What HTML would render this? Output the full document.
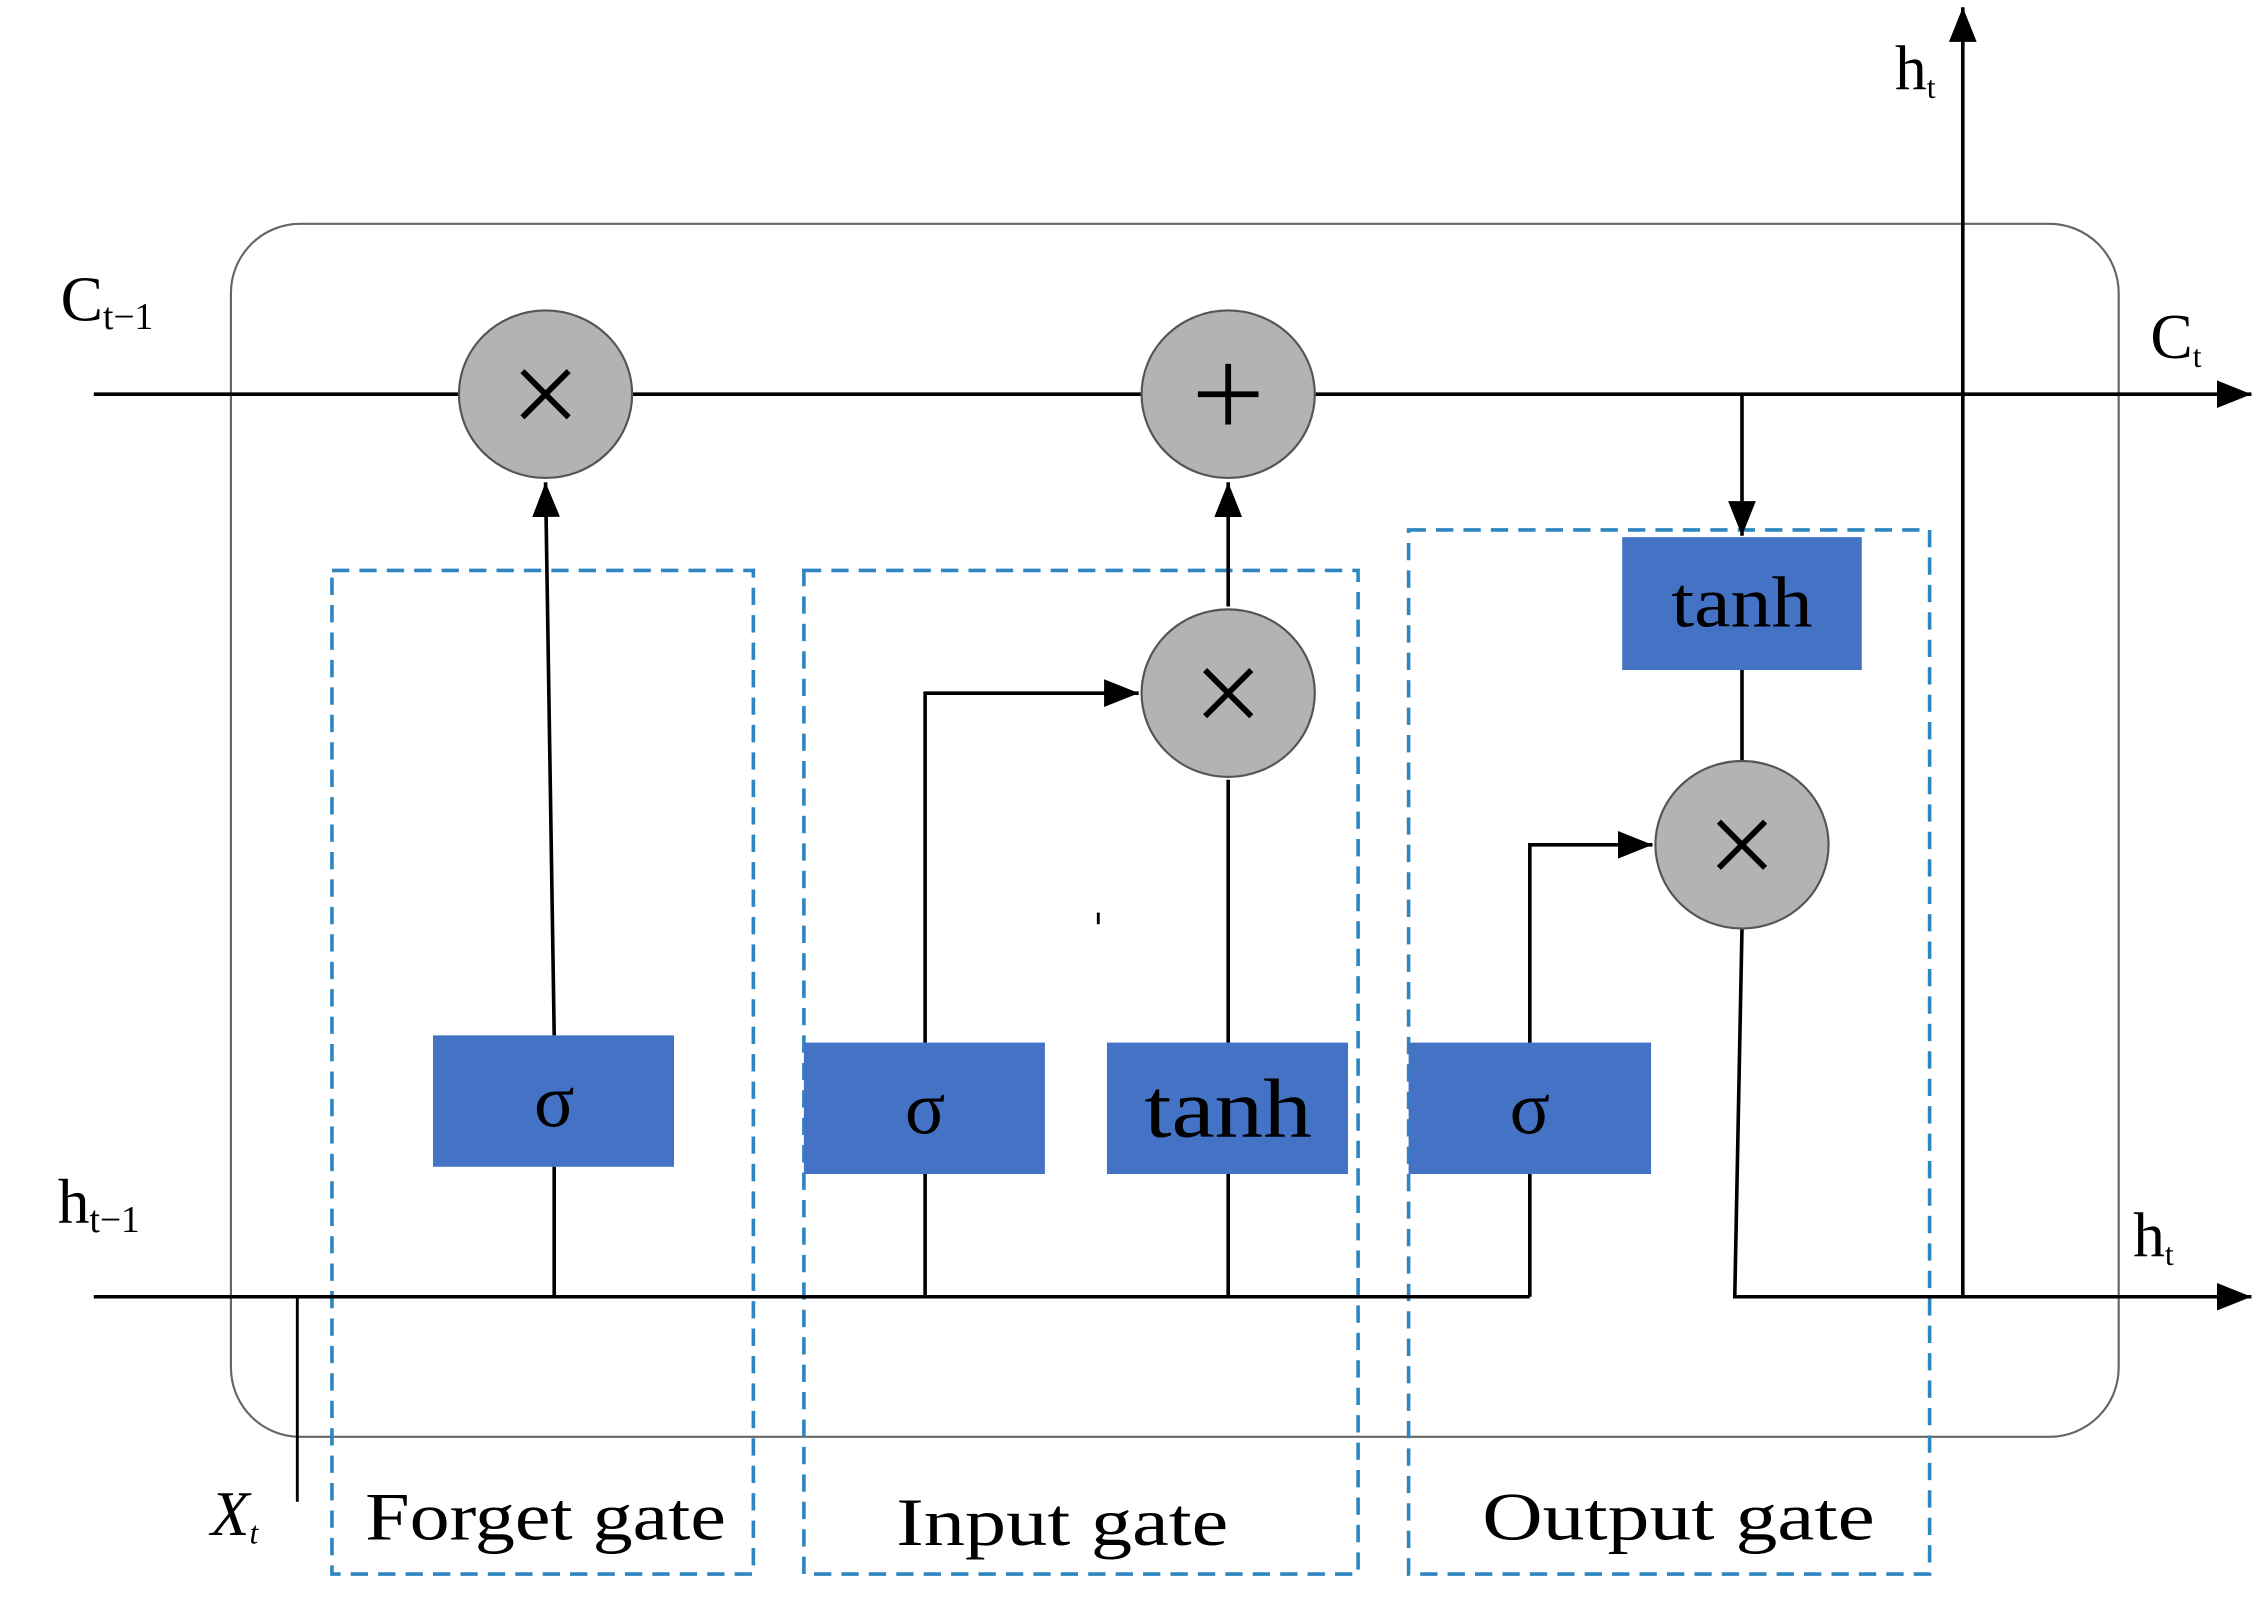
<!DOCTYPE html>
<html><head><style>html,body{margin:0;padding:0;background:#fff;}svg{display:block}</style></head>
<body>
<svg width="2263" height="1613" viewBox="0 0 1568 1117" preserveAspectRatio="none" xmlns="http://www.w3.org/2000/svg" font-family="Liberation Serif, serif">
<defs>
<marker id="b" viewBox="0 0 10 10" refX="10" refY="5" markerWidth="24" markerHeight="24" markerUnits="userSpaceOnUse" orient="auto"><path d="M0,1L10,5L0,9z" fill="#000"/></marker>
</defs>
<rect x="160" y="155" width="1308" height="840" rx="48" fill="none" stroke="#666" stroke-width="1.5"/>
<g fill="none" stroke="#2e86c1" stroke-width="2.5" stroke-dasharray="12,7">
<rect x="230" y="395" width="292" height="695"/>
<rect x="557" y="395" width="384" height="695"/>
<rect x="976" y="367" width="361" height="723"/>
</g>
<g stroke="#000" stroke-width="2.5" fill="none">
<line x1="65" y1="273" x2="1560" y2="273" marker-end="url(#b)"/>
<line x1="65" y1="898" x2="1060" y2="898"/>
<polyline points="1060,898 1060,585 1145,585" marker-end="url(#b)"/>
<polyline points="1207,643 1202,898 1560,898" marker-end="url(#b)"/>
<line x1="1360" y1="898" x2="1360" y2="5" marker-end="url(#b)"/>
<line x1="384" y1="898" x2="384" y2="808"/>
<line x1="384" y1="717" x2="378" y2="334" marker-end="url(#b)"/>
<line x1="641" y1="898" x2="641" y2="813"/>
<polyline points="641,722 641,480 789,480" marker-end="url(#b)"/>
<line x1="851" y1="898" x2="851" y2="813"/>
<line x1="851" y1="722" x2="851" y2="540"/>
<line x1="851" y1="420" x2="851" y2="334" marker-end="url(#b)"/>
<line x1="1207" y1="273" x2="1207" y2="371" marker-end="url(#b)"/>
<line x1="1207" y1="464" x2="1207" y2="527"/>
<line x1="206" y1="898" x2="206" y2="1040" stroke-width="2"/>
</g>
<g fill="#b3b3b3" stroke="#555" stroke-width="1.5">
<ellipse cx="378" cy="273" rx="60" ry="58"/>
<ellipse cx="851" cy="273" rx="60" ry="58"/>
<ellipse cx="851" cy="480" rx="60" ry="58"/>
<ellipse cx="1207" cy="585" rx="60" ry="58"/>
</g>
<g stroke="#000" stroke-width="4">
<path d="M362,257L394,289M394,257L362,289"/>
<path d="M851,252V294M830,273H872"/>
<path d="M835,464L867,496M867,464L835,496"/>
<path d="M1191,569L1223,601M1223,569L1191,601"/>
</g>
<g fill="#4472c4">
<rect x="300" y="717" width="167" height="91"/>
<rect x="557" y="722" width="167" height="91"/>
<rect x="767" y="722" width="167" height="91"/>
<rect x="976" y="722" width="168" height="91"/>
<rect x="1124" y="372" width="166" height="92"/>
</g>
<g fill="#000" text-anchor="middle">
<text x="384" y="780" font-size="52">σ</text>
<text x="641" y="785" font-size="52">σ</text>
<text x="851" y="787" font-size="58" textLength="116" lengthAdjust="spacingAndGlyphs">tanh</text>
<text x="1060" y="785" font-size="52">σ</text>
<text x="1207" y="434" font-size="50" textLength="98" lengthAdjust="spacingAndGlyphs">tanh</text>
<text x="378" y="1066" font-size="47" textLength="250" lengthAdjust="spacingAndGlyphs">Forget gate</text>
<text x="736" y="1070" font-size="47" textLength="230" lengthAdjust="spacingAndGlyphs">Input gate</text>
<text x="1163" y="1066" font-size="47" textLength="272" lengthAdjust="spacingAndGlyphs">Output gate</text>
</g>
<g fill="#000" font-size="44">
<text x="42" y="222">C<tspan font-size="26" dy="6">t−1</tspan></text>
<text x="1490" y="248">C<tspan font-size="22" dy="6">t</tspan></text>
<text x="1313" y="62">h<tspan font-size="22" dy="6">t</tspan></text>
<text x="40" y="847">h<tspan font-size="26" dy="6">t−1</tspan></text>
<text x="1478" y="870">h<tspan font-size="22" dy="6">t</tspan></text>
<text x="146" y="1063" font-style="italic">X<tspan font-size="22" dy="6">t</tspan></text>
</g>
<line x1="761" y1="632" x2="761" y2="640" stroke="#000" stroke-width="2"/>
</svg>
</body></html>
